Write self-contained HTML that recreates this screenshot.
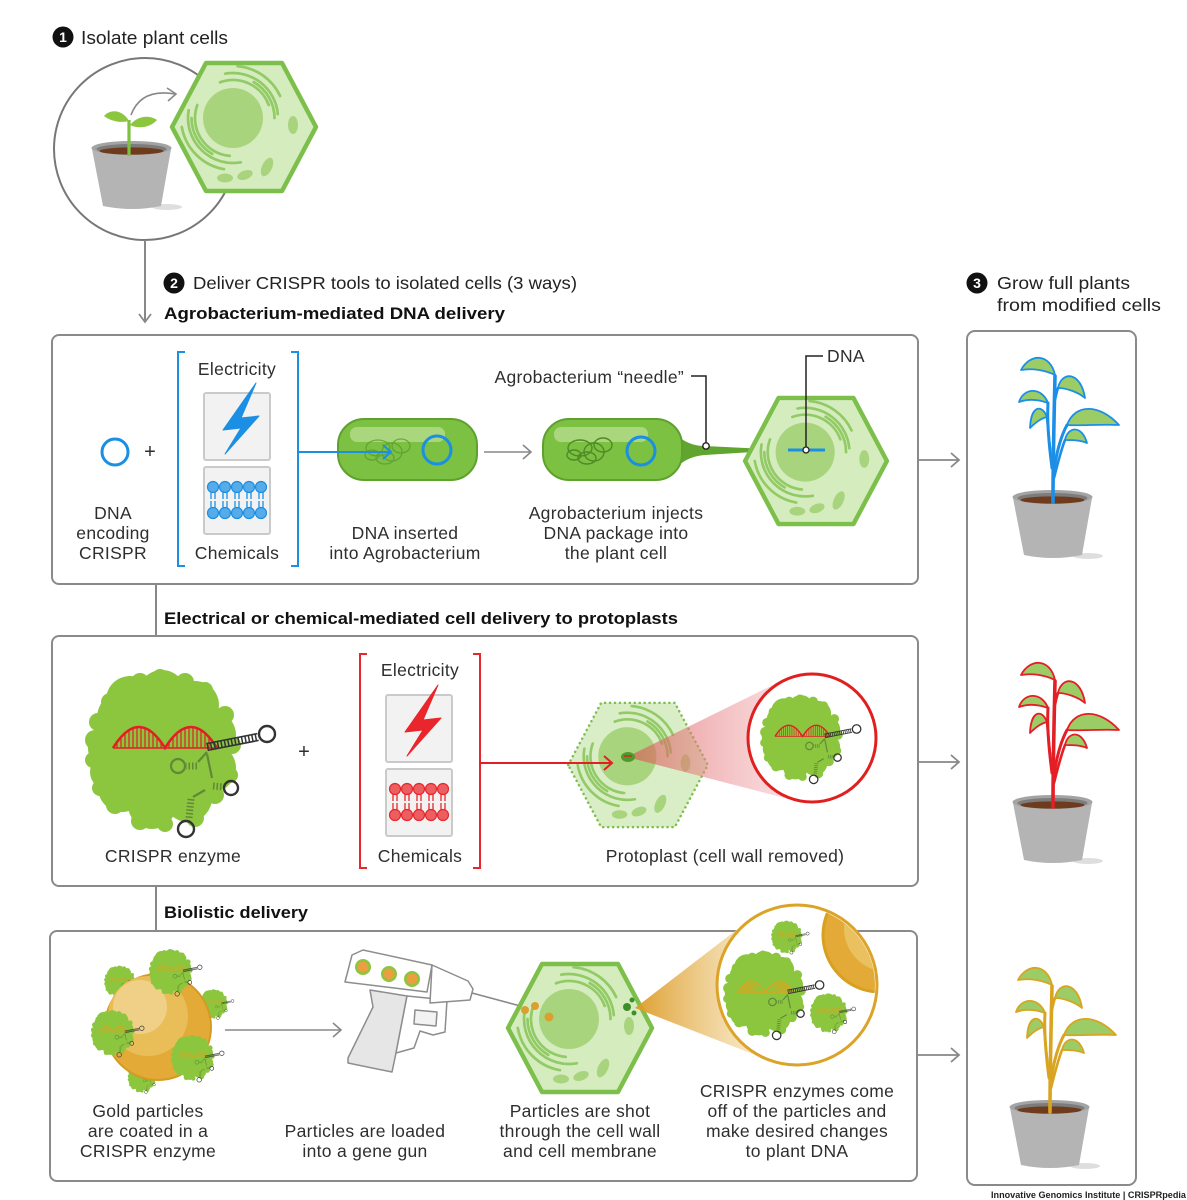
<!DOCTYPE html>
<html><head><meta charset="utf-8"><style>
html,body{margin:0;padding:0;background:#fff;}
svg{display:block;}
text{font-family:"Liberation Sans",Arial,sans-serif;fill:#2e2e2e;}
.t{font-size:17.5px;letter-spacing:0.3px;}
.b{font-weight:bold;fill:#111;font-size:17px;}
</style></head><body>
<svg width="1187" height="1200" viewBox="0 0 1187 1200" xmlns="http://www.w3.org/2000/svg" xmlns:xlink="http://www.w3.org/1999/xlink">
<defs>
  <linearGradient id="pinkg" x1="0" y1="0" x2="1" y2="0">
    <stop offset="0" stop-color="#d9534f" stop-opacity="0.65"/>
    <stop offset="1" stop-color="#f6b8c0" stop-opacity="0.45"/>
  </linearGradient>
  <linearGradient id="goldg" x1="0" y1="0" x2="1" y2="0">
    <stop offset="0" stop-color="#dc9a25" stop-opacity="0.95"/>
    <stop offset="1" stop-color="#f6e2b4" stop-opacity="0.6"/>
  </linearGradient>
  <clipPath id="goldclip"><circle cx="797" cy="985" r="78"/></clipPath>

  <!-- cell interior -->
  <g id="cellin">
    <circle cx="-11" cy="-9" r="30" fill="#a9d47e"/>
    <g fill="none" stroke="#92cb66" stroke-width="2.7" stroke-linecap="round">
      <path d="M-24,-44.7 A38,38 0 0 1 24.7,-22"/>
      <path d="M9.75,-44.9 A41.5,41.5 0 0 1 30.5,-9"/>
      <path d="M-18.8,-53.3 A45,45 0 0 1 33.8,-12.9"/>
      <path d="M-6.5,-60.8 A52,52 0 0 1 36.1,-31"/>
      <path d="M-14.3,28.9 A38,38 0 0 1 -46.7,-22"/>
      <path d="M-31.75,26.9 A41.5,41.5 0 0 1 -52.5,-9"/>
      <path d="M-3.2,35.3 A45,45 0 0 1 -55.3,-16.8"/>
      <path d="M-20,42.2 A52,52 0 0 1 -62.2,0"/>
    </g>
    <g fill="#a9d47e">
      <ellipse cx="49" cy="-2" rx="5" ry="9"/>
      <ellipse cx="23" cy="40" rx="5" ry="10" transform="rotate(25 23 40)"/>
      <ellipse cx="1" cy="48" rx="8" ry="4.5" transform="rotate(-20 1 48)"/>
      <ellipse cx="-19" cy="51" rx="8" ry="4.5"/>
    </g>
  </g>
  <g id="cell">
    <path d="M-72,0 L-38,-64 L38,-64 L72,0 L38,64 L-38,64 Z" fill="#d5ecbf" stroke="#7dbf4b" stroke-width="4.5" stroke-linejoin="round"/>
    <use xlink:href="#cellin"/>
  </g>

  <!-- CRISPR enzyme -->
  <g id="enz"><g transform="translate(-164,-751)">
    <g fill="#8cc63f">
      <circle cx="160" cy="748" r="52"/>
      <circle cx="125" cy="718" r="28"/><circle cx="112" cy="748" r="24"/><circle cx="130" cy="700" r="24"/>
      <circle cx="162" cy="694" r="24"/><circle cx="195" cy="705" r="24"/><circle cx="212" cy="735" r="24"/>
      <circle cx="212" cy="768" r="24"/><circle cx="188" cy="798" r="24"/><circle cx="152" cy="805" r="24"/>
      <circle cx="122" cy="788" r="24"/><circle cx="108" cy="772" r="18"/>
      <circle cx="95" cy="740" r="10"/><circle cx="98" cy="722" r="9"/><circle cx="110" cy="702" r="9"/>
      <circle cx="140" cy="682" r="9"/><circle cx="160" cy="677" r="8"/><circle cx="185" cy="682" r="9"/>
      <circle cx="205" cy="690" r="8"/><circle cx="225" cy="715" r="9"/><circle cx="232" cy="745" r="9"/>
      <circle cx="230" cy="775" r="8"/><circle cx="215" cy="795" r="9"/><circle cx="195" cy="818" r="9"/>
      <circle cx="165" cy="824" r="8"/><circle cx="140" cy="821" r="9"/><circle cx="115" cy="805" r="9"/>
      <circle cx="100" cy="788" r="8"/><circle cx="93" cy="760" r="8"/><circle cx="120" cy="690" r="7"/>
    </g>
    <g stroke="currentColor" fill="none">
      <path d="M113,748 Q139,706 165,748 Q191,706 217,748" stroke-width="2.6"/>
      <path d="M113,748 H214" stroke-width="1.4"/>
      <path d="M117,748V743M121,748V738.2M125,748V734.1M129,748V730.7M133,748V728.4M137,748V727.1M141,748V727.1M145,748V728.4M149,748V730.7M153,748V734.1M157,748V738.2M161,748V743M169,748V743M173,748V738.2M177,748V734.1M181,748V730.7M185,748V728.4M189,748V727.1M193,748V727.1M197,748V728.4M201,748V730.7M205,748V734.1M209,748V738.2" stroke-width="1.2"/>
    </g>
    <g fill="none" stroke="#4f6e33" stroke-opacity="0.7" stroke-width="2.2">
      <path d="M207,752 L198,762"/>
      <path d="M197,766 L186,766" stroke-width="7" stroke-dasharray="1.5 2"/>
      <circle cx="178" cy="766" r="7"/>
      <path d="M207,754 L212,778"/>
      <path d="M213,786 L224,787" stroke-width="7" stroke-dasharray="1.5 2"/>
      <path d="M205,790 L193,797"/>
      <path d="M191,799 L189,818" stroke-width="7" stroke-dasharray="1.5 2"/>
    </g>
    <g fill="none" stroke="#333" stroke-width="2.4">
      <path d="M207,747 L258,737" stroke-width="7" stroke-dasharray="1.5 2"/>
      <path d="M206.3,743.6 L257.3,733.6 M207.7,750.4 L258.7,740.4" stroke-width="1.6"/>
      <circle cx="267" cy="734" r="8"/>
      <circle cx="231" cy="788" r="7"/>
      <circle cx="186" cy="829" r="8"/>
    </g>
  </g></g>

  <!-- delivery bracket (colored via currentColor) -->
  <g id="bracket">
    <path d="M185,352 H178 V566 H185 M291,352 H298 V566 H291" fill="none" stroke="currentColor" stroke-width="2"/>
    <rect x="204" y="393" width="66" height="67" rx="2" fill="#f2f2f2" stroke="#cacaca" stroke-width="2"/>
    <rect x="204" y="467" width="66" height="67" rx="2" fill="#f2f2f2" stroke="#cacaca" stroke-width="2"/>
    <polygon points="256,383 223,430 241,428 225,454 259,416 241,418" fill="currentColor" stroke="currentColor" stroke-width="1" stroke-linejoin="round"/>
    <g stroke="currentColor" stroke-width="1.3">
      <path d="M211,492V499M215,492V499M223,492V499M227,492V499M235,492V499M239,492V499M247,492V499M251,492V499M259,492V499M263,492V499"/>
      <path d="M211,501V508M215,501V508M223,501V508M227,501V508M235,501V508M239,501V508M247,501V508M251,501V508M259,501V508M263,501V508"/>
    </g>
    <g fill="currentColor" fill-opacity="0.72" stroke="currentColor" stroke-width="1.2">
      <circle cx="213" cy="487" r="5.5"/><circle cx="225" cy="487" r="5.5"/><circle cx="237" cy="487" r="5.5"/><circle cx="249" cy="487" r="5.5"/><circle cx="261" cy="487" r="5.5"/>
      <circle cx="213" cy="513" r="5.5"/><circle cx="225" cy="513" r="5.5"/><circle cx="237" cy="513" r="5.5"/><circle cx="249" cy="513" r="5.5"/><circle cx="261" cy="513" r="5.5"/>
    </g>
  </g>

  <!-- pot -->
  <g id="pot">
    <ellipse cx="1088" cy="556" rx="15" ry="3" fill="#dedede"/>
    <path d="M1013,498 L1024,555 Q1053,561 1082,555 L1092,498 Z" fill="#b4b4b4"/>
    <ellipse cx="1052.5" cy="497" rx="40" ry="7" fill="#a3a3a3"/>
    <ellipse cx="1052.5" cy="498" rx="35" ry="5" fill="#7c7c7c"/>
    <ellipse cx="1052.5" cy="500" rx="32" ry="3.6" fill="#6e3b1c"/>
  </g>

  <!-- plant -->
  <g id="plant">
    <use xlink:href="#pot"/>
    <g fill="none" stroke="currentColor" stroke-width="3.6" stroke-linecap="round">
      <path d="M1053,502 C1053,460 1054,420 1055,376"/>
      <path d="M1052,468 C1049,445 1047,420 1048,403" stroke-width="3"/>
      <path d="M1051,458 C1049,440 1048,428 1047,417" stroke-width="2.6"/>
      <path d="M1054,470 C1057,450 1061,436 1067,425" stroke-width="3"/>
      <path d="M1054,478 C1058,462 1061,450 1065,440" stroke-width="2.6"/>
      <path d="M1055,400 C1056,395 1057,391 1058,388" stroke-width="2.6"/>
    </g>
    <g fill="#9ccc65" stroke="currentColor" stroke-width="1.8" stroke-linejoin="round">
      <path d="M1055,375 C1050,353 1030,353 1021,370 C1032,368 1045,370 1055,375Z"/>
      <path d="M1058,388 C1062,370 1081,372 1085,398 C1078,392 1066,388 1058,388Z"/>
      <path d="M1048,403 C1042,387 1024,387 1019,402 C1030,398 1040,400 1048,403Z"/>
      <path d="M1047,417 C1042,404 1031,405 1030,428 C1036,422 1042,418 1047,417Z"/>
      <path d="M1067,425 C1075,403 1100,404 1119,425 C1100,424 1082,426 1067,425Z"/>
      <path d="M1065,440 C1068,426 1082,425 1087,443 C1080,440 1072,440 1065,440Z"/>
    </g>
  </g>
</defs>

<!-- ===== STEP 1 ===== -->
<circle cx="63" cy="37" r="10.5" fill="#111"/>
<text x="63" y="42" text-anchor="middle" style="fill:#fff;font-weight:bold;font-size:14px">1</text>
<text x="81" y="44" style="font-size:18.5px;fill:#222" textLength="147" lengthAdjust="spacingAndGlyphs">Isolate plant cells</text>

<circle cx="145" cy="149" r="91" fill="#fff" stroke="#777" stroke-width="2"/>
<use xlink:href="#pot" transform="translate(-921,-349)"/>
<path d="M129,156 L129,120" stroke="#7dc142" stroke-width="3.2"/>
<path d="M129,121 C122,109 110,109 104,116 C112,122 122,123 129,121Z" fill="#8cc63f"/>
<path d="M130,125 C138,115 150,115 157,120 C150,128 138,129 130,125Z" fill="#8cc63f"/>
<path d="M131,115 Q141,88 175,94" fill="none" stroke="#888" stroke-width="1.6"/>
<path d="M167,88 L176,94 L168,101" fill="none" stroke="#888" stroke-width="1.6"/>
<use xlink:href="#cell" transform="translate(244,127)"/>

<path d="M145,240 V321" stroke="#888" stroke-width="2"/>
<path d="M139,314 L145,322 L151,314" fill="none" stroke="#888" stroke-width="1.8"/>

<!-- ===== STEP 2 headers ===== -->
<circle cx="174" cy="283" r="10.5" fill="#111"/>
<text x="174" y="288" text-anchor="middle" style="fill:#fff;font-weight:bold;font-size:14px">2</text>
<text x="193" y="289" style="font-size:17.5px;fill:#222" textLength="384" lengthAdjust="spacingAndGlyphs">Deliver CRISPR tools to isolated cells (3 ways)</text>
<text x="164" y="319" class="b" textLength="341" lengthAdjust="spacingAndGlyphs">Agrobacterium-mediated DNA delivery</text>
<text x="164" y="624" class="b" textLength="514" lengthAdjust="spacingAndGlyphs">Electrical or chemical-mediated cell delivery to protoplasts</text>
<text x="164" y="918" class="b" textLength="144" lengthAdjust="spacingAndGlyphs">Biolistic delivery</text>

<!-- connectors between boxes -->
<path d="M156,584 V636 M156,886 V931" stroke="#888" stroke-width="2"/>

<!-- boxes -->
<rect x="52" y="335" width="866" height="249" rx="7" fill="#fff" stroke="#8a8a8a" stroke-width="2"/>
<rect x="52" y="636" width="866" height="250" rx="7" fill="#fff" stroke="#8a8a8a" stroke-width="2"/>
<rect x="50" y="931" width="867" height="250" rx="7" fill="#fff" stroke="#8a8a8a" stroke-width="2"/>

<!-- ===== STEP 3 ===== -->
<circle cx="977" cy="283" r="10.5" fill="#111"/>
<text x="977" y="288" text-anchor="middle" style="fill:#fff;font-weight:bold;font-size:14px">3</text>
<text x="997" y="289" style="font-size:17.5px;fill:#222" textLength="133" lengthAdjust="spacingAndGlyphs">Grow full plants</text>
<text x="997" y="311" style="font-size:17.5px;fill:#222" textLength="164" lengthAdjust="spacingAndGlyphs">from modified cells</text>
<rect x="967" y="331" width="169" height="854" rx="8" fill="#fff" stroke="#8a8a8a" stroke-width="2"/>

<g fill="none" stroke="#888" stroke-width="1.8">
  <path d="M918,460 H959 M951,453 L959,460 L951,467"/>
  <path d="M918,762 H959 M951,755 L959,762 L951,769"/>
  <path d="M917,1055 H959 M951,1048 L959,1055 L951,1062"/>
</g>

<use xlink:href="#plant" style="color:#1b8fe8"/>
<use xlink:href="#plant" transform="translate(0,305)" style="color:#e41e25"/>
<use xlink:href="#plant" transform="translate(-3,610)" style="color:#d9a520"/>

<!-- ===== BOX 1 ===== -->
<circle cx="115" cy="452" r="13" fill="none" stroke="#1a8fe3" stroke-width="3"/>
<text x="150" y="458" text-anchor="middle" style="font-size:20px">+</text>
<text class="t" x="113" y="519" text-anchor="middle">DNA</text>
<text class="t" x="113" y="539" text-anchor="middle">encoding</text>
<text class="t" x="113" y="559" text-anchor="middle">CRISPR</text>

<use xlink:href="#bracket" style="color:#1a8fe3"/>
<text class="t" x="237" y="375" text-anchor="middle">Electricity</text>
<text class="t" x="237" y="559" text-anchor="middle">Chemicals</text>

<!-- bacterium 1 -->
<rect x="338" y="419" width="139" height="61" rx="26" fill="#7cc142" stroke="#5ea12f" stroke-width="2"/>
<rect x="350" y="427" width="95" height="15" rx="7" fill="#b9dd93" opacity="0.75"/>
<g fill="none" stroke="#5a9a2e" stroke-width="1.3" opacity="0.75">
  <ellipse cx="378" cy="448" rx="12" ry="8"/><ellipse cx="392" cy="452" rx="10" ry="9"/>
  <ellipse cx="401" cy="446" rx="9" ry="7"/><ellipse cx="385" cy="458" rx="9" ry="6"/>
  <ellipse cx="372" cy="455" rx="7" ry="5"/>
</g>
<circle cx="437" cy="450" r="14" fill="none" stroke="#1a8fe3" stroke-width="3"/>
<path d="M298,452 H391 M383,445 L391,452 L383,459" fill="none" stroke="#1a8fe3" stroke-width="2"/>
<text class="t" x="405" y="539" text-anchor="middle">DNA inserted</text>
<text class="t" x="405" y="559" text-anchor="middle">into Agrobacterium</text>

<path d="M484,452 H531 M523,445 L531,452 L523,459" fill="none" stroke="#888" stroke-width="1.6"/>

<!-- bacterium 2 + needle -->
<path d="M679,437 Q690,446 705,446 L786,450 L705,455 Q690,456 679,465 Z" fill="#5fa52f"/>
<rect x="543" y="419" width="139" height="61" rx="26" fill="#7cc142" stroke="#5ea12f" stroke-width="2"/>
<rect x="554" y="427" width="94" height="15" rx="7" fill="#b9dd93" opacity="0.75"/>
<g fill="none" stroke="#4e8a26" stroke-width="1.4">
  <ellipse cx="580" cy="448" rx="12" ry="8"/><ellipse cx="594" cy="452" rx="10" ry="9"/>
  <ellipse cx="603" cy="445" rx="9" ry="7"/><ellipse cx="587" cy="458" rx="9" ry="6"/>
  <ellipse cx="574" cy="455" rx="7" ry="5"/>
</g>
<circle cx="641" cy="451" r="14" fill="none" stroke="#1a8fe3" stroke-width="3"/>
<path d="M691,376 H706 V443" fill="none" stroke="#222" stroke-width="1.5"/>
<circle cx="706" cy="446" r="3.2" fill="#fff" stroke="#222" stroke-width="1.4"/>
<text class="t" x="684" y="383" text-anchor="end">Agrobacterium “needle”</text>
<text class="t" x="616" y="519" text-anchor="middle">Agrobacterium injects</text>
<text class="t" x="616" y="539" text-anchor="middle">DNA package into</text>
<text class="t" x="616" y="559" text-anchor="middle">the plant cell</text>

<!-- cell box1 -->
<use xlink:href="#cell" transform="translate(816,461) scale(0.985)"/>
<path d="M788,450 H825" stroke="#1a8fe3" stroke-width="3"/>
<path d="M823,356 H806 V447" fill="none" stroke="#222" stroke-width="1.5"/>
<circle cx="806" cy="450" r="3" fill="#fff" stroke="#222" stroke-width="1.3"/>
<text class="t" x="827" y="362">DNA</text>

<!-- ===== BOX 2 ===== -->
<use xlink:href="#enz" transform="translate(164,751)" style="color:#e41e25"/>
<text x="304" y="758" text-anchor="middle" style="font-size:20px">+</text>
<text class="t" x="173" y="862" text-anchor="middle">CRISPR enzyme</text>

<use xlink:href="#bracket" transform="translate(182,302)" style="color:#e8262b"/>
<text class="t" x="420" y="676" text-anchor="middle">Electricity</text>
<text class="t" x="420" y="862" text-anchor="middle">Chemicals</text>

<!-- protoplast -->
<g transform="translate(638,765) scale(0.97)">
  <path d="M-72,0 L-38,-64 L38,-64 L72,0 L38,64 L-38,64 Z" fill="#d9edc7" stroke="#7dbf4b" stroke-width="2.6" stroke-dasharray="0.1 5" stroke-linecap="round" stroke-linejoin="round"/>
  <use xlink:href="#cellin"/>
</g>
<path d="M479,763 H612 M604,756 L612,763 L604,770" fill="none" stroke="#e41e25" stroke-width="2"/>
<polygon points="627,757 783,680 796,801" fill="url(#pinkg)"/>
<ellipse cx="628" cy="757" rx="7" ry="5" fill="#4f9a2a"/>
<path d="M624,756 H632" stroke="#e41e25" stroke-width="1.4"/>
<circle cx="812" cy="738" r="64" fill="#fff" stroke="#e0201f" stroke-width="3"/>
<use xlink:href="#enz" transform="translate(802,738) scale(0.53)" style="color:#e41e25"/>
<text class="t" x="725" y="862" text-anchor="middle">Protoplast (cell wall removed)</text>

<!-- ===== BOX 3 ===== -->
<use xlink:href="#enz" transform="translate(120,982) scale(0.2)" style="color:#d9a520"/>
<use xlink:href="#enz" transform="translate(214,1004) scale(0.18)" style="color:#d9a520"/>
<use xlink:href="#enz" transform="translate(142,1078) scale(0.18)" style="color:#d9a520"/>
<circle cx="158" cy="1027" r="53" fill="#e3aa38" stroke="#d49a22" stroke-width="2"/>
<circle cx="148" cy="1016" r="40" fill="#e9bd58"/>
<circle cx="140" cy="1007" r="27" fill="#f0cf86"/>
<use xlink:href="#enz" transform="translate(171,972) scale(0.28)" style="color:#d9a520"/>
<use xlink:href="#enz" transform="translate(113,1033) scale(0.28)" style="color:#d9a520"/>
<use xlink:href="#enz" transform="translate(193,1058) scale(0.28)" style="color:#d9a520"/>
<text class="t" x="148" y="1117" text-anchor="middle">Gold particles</text>
<text class="t" x="148" y="1137" text-anchor="middle">are coated in a</text>
<text class="t" x="148" y="1157" text-anchor="middle">CRISPR enzyme</text>

<path d="M225,1030 H341 M333,1023 L341,1030 L333,1037" fill="none" stroke="#888" stroke-width="1.6"/>

<!-- gene gun -->
<g stroke="#8d8d8d" stroke-width="1.5" stroke-linejoin="round">
  <polygon points="370,990 407,996 396,1053 392,1072 348,1063 348,1058 373,1007" fill="#e6e6e6"/>
  <polygon points="407,996 447,1000 445,1032 433,1035 420,1031 414,1048 396,1053" fill="#fff"/>
  <polygon points="415,1010 437,1012 436,1026 414,1024" fill="#f3f3f3"/>
  <polygon points="432,965 468,981 473,989 470,1000 430,1003" fill="#fff"/>
  <polygon points="345,982 352,955 363,950 432,965 427,992" fill="#fff"/>
</g>
<g>
  <circle cx="363" cy="967" r="8" fill="#8cc63f"/><circle cx="363" cy="967" r="5.5" fill="#e8a040"/>
  <circle cx="389" cy="974" r="8" fill="#8cc63f"/><circle cx="389" cy="974" r="5.5" fill="#e8a040"/>
  <circle cx="412" cy="979" r="8" fill="#8cc63f"/><circle cx="412" cy="979" r="5.5" fill="#e8a040"/>
</g>
<path d="M472,993 L524,1007" stroke="#888" stroke-width="1.6"/>
<text class="t" x="365" y="1137" text-anchor="middle">Particles are loaded</text>
<text class="t" x="365" y="1157" text-anchor="middle">into a gene gun</text>

<!-- cell box3 -->
<use xlink:href="#cell" transform="translate(580,1028)"/>
<g fill="#d9a030">
  <circle cx="525" cy="1010" r="4"/><circle cx="535" cy="1006" r="4"/><circle cx="549" cy="1017" r="4.5"/>
</g>
<g fill="#3d8f2a">
  <circle cx="627" cy="1007" r="4"/><circle cx="632" cy="1000" r="2.5"/><circle cx="634" cy="1013" r="2.5"/>
</g>
<polygon points="635,1008 748,921 768,1060" fill="url(#goldg)"/>
<circle cx="797" cy="985" r="80" fill="#fff"/>
<g clip-path="url(#goldclip)">
  <circle cx="880" cy="935" r="57" fill="#e3aa38" stroke="#d9a020" stroke-width="3"/>
  <circle cx="888" cy="928" r="44" fill="#ebc160"/>
  <circle cx="896" cy="921" r="30" fill="#f2d38b"/>
</g>
<circle cx="797" cy="985" r="80" fill="none" stroke="#dba328" stroke-width="3"/>
<use xlink:href="#enz" transform="translate(787,937) scale(0.2)" style="color:#d9a520"/>
<use xlink:href="#enz" transform="translate(765,994) scale(0.53)" style="color:#d9a520"/>
<use xlink:href="#enz" transform="translate(829,1013) scale(0.24)" style="color:#d9a520"/>

<text class="t" x="580" y="1117" text-anchor="middle">Particles are shot</text>
<text class="t" x="580" y="1137" text-anchor="middle">through the cell wall</text>
<text class="t" x="580" y="1157" text-anchor="middle">and cell membrane</text>
<text class="t" x="797" y="1097" text-anchor="middle">CRISPR enzymes come</text>
<text class="t" x="797" y="1117" text-anchor="middle">off of the particles and</text>
<text class="t" x="797" y="1137" text-anchor="middle">make desired changes</text>
<text class="t" x="797" y="1157" text-anchor="middle">to plant DNA</text>

<text x="1186" y="1198" text-anchor="end" style="font-size:9.5px;font-weight:bold;fill:#222" textLength="195" lengthAdjust="spacingAndGlyphs">Innovative Genomics Institute | CRISPRpedia</text>
</svg>
</body></html>
